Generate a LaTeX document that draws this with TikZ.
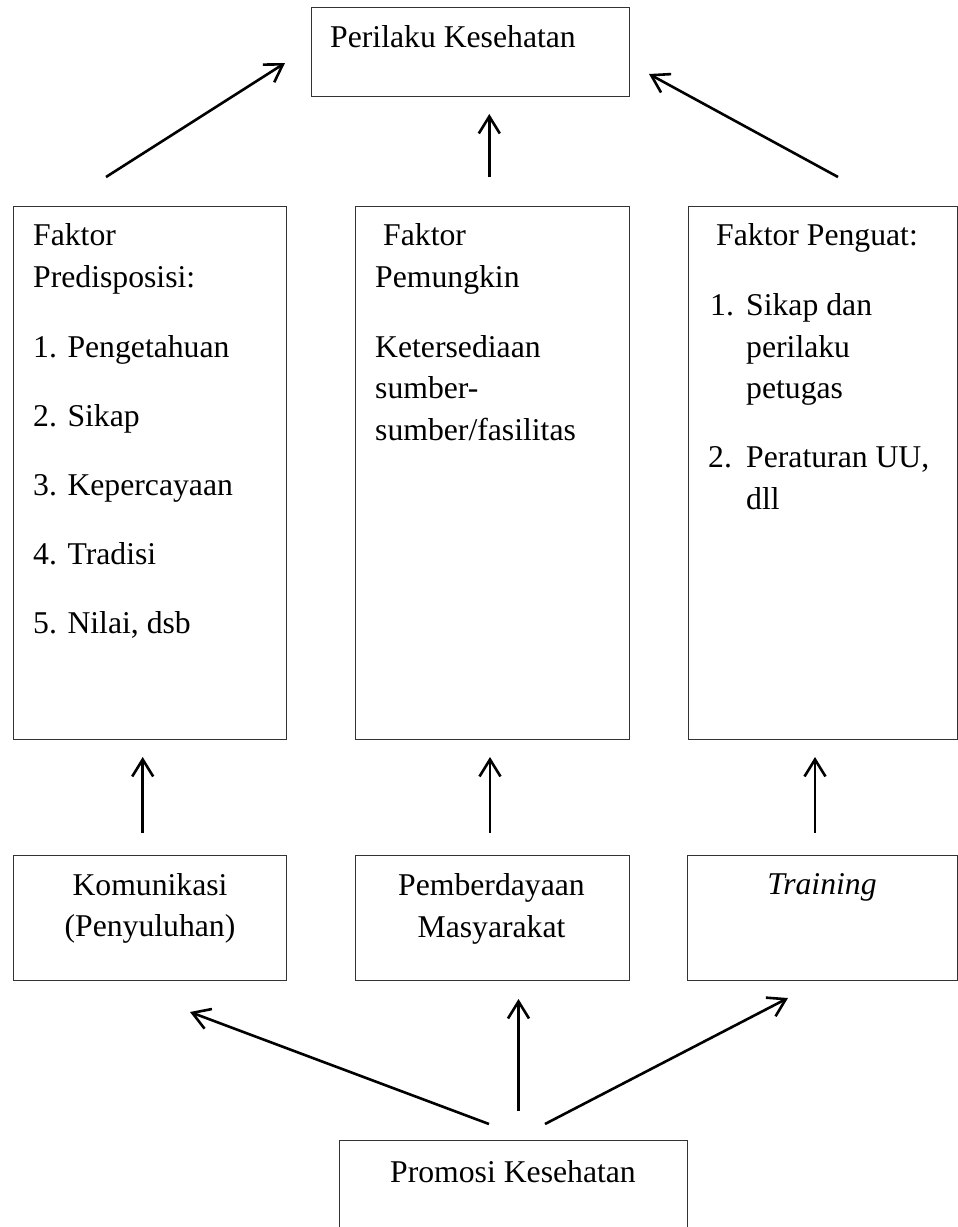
\documentclass[tikz,border=0pt]{standalone}
\usepackage{fontspec}
\setmainfont{Liberation Serif}
\usetikzlibrary{arrows.meta}
\begin{document}
\begin{tikzpicture}[x=1pt,y=-1pt,
  box/.style={draw=black!80, line width=1.1pt, inner sep=0pt, anchor=north west},
  txt/.style={inner sep=0pt, font=\fontsize{31.7}{38}\selectfont},
  lt/.style={txt, anchor=base west},
  ct/.style={txt, anchor=base},
  arr/.style={line width=2.6pt, -{Straight Barb[length=17pt,width=21pt]}}]
\useasboundingbox (0,0) rectangle (958,1227);
% boxes
\node[box, minimum width=318.3pt, minimum height=89pt] (top) at (310.7,7) {};
\node[box, minimum width=273.3pt, minimum height=533pt] (b1) at (12.7,206) {};
\node[box, minimum width=274.5pt, minimum height=533pt] (b2) at (354.5,206) {};
\node[box, minimum width=269.5pt, minimum height=533pt] (b3) at (687.5,206) {};
\node[box, minimum width=273.3pt, minimum height=125pt] (c1) at (12.7,855) {};
\node[box, minimum width=274.5pt, minimum height=125pt] (c2) at (354.5,855) {};
\node[box, minimum width=270.5pt, minimum height=125pt] (c3) at (686.5,855) {};
\node[box, minimum width=348pt, minimum height=120pt] (pk) at (339,1140) {};
% texts
\node[lt] (ttop) at (330,47) {Perilaku Kesehatan};
\node[lt] (t1a) at (33,245) {Faktor};
\node[lt] (t1b) at (33,287) {Predisposisi:};
\node[lt] (t1c) at (33,357) {1. Pengetahuan};
\node[lt] (t1d) at (33,426) {2. Sikap};
\node[lt] (t1e) at (33,495) {3. Kepercayaan};
\node[lt] (t1f) at (33,564) {4. Tradisi};
\node[lt] (t1g) at (33,633) {5. Nilai, dsb};
\node[lt] (t2a) at (383,245) {Faktor};
\node[lt] (t2b) at (375,287) {Pemungkin};
\node[lt] (t2c) at (375,357) {Ketersediaan};
\node[lt] (t2d) at (375,398) {sumber-};
\node[lt] (t2e) at (375,440) {sumber/fasilitas};
\node[lt] (t3a) at (716,245) {Faktor Penguat:};
\node[lt] (t3b) at (710,315) {1.};
\node[lt] (t3c) at (746,315) {Sikap dan};
\node[lt] (t3d) at (746,357) {perilaku};
\node[lt] (t3e) at (746,398) {petugas};
\node[lt] (t3f) at (708,467) {2.};
\node[lt] (t3g) at (746,467) {Peraturan UU,};
\node[lt] (t3h) at (746,509) {dll};
\node[ct] (u1a) at (150,895) {Komunikasi};
\node[ct] (u1b) at (150,936) {(Penyuluhan)};
\node[ct] (u2a) at (491.5,895) {Pemberdayaan};
\node[ct] (u2b) at (491.5,937) {Masyarakat};
\node[ct] (u3a) at (822,894) {\itshape Training};
\node[ct] (upk) at (513,1182) {Promosi Kesehatan};
% arrow end points
\coordinate (a1s) at (106,177);  \coordinate (a1e) at (285,63);
\coordinate (a2s) at (489.3,177); \coordinate (a2e) at (489.3,114);
\coordinate (a3s) at (838,177);  \coordinate (a3e) at (649,74);
\coordinate (m1s) at (142.7,833); \coordinate (m1e) at (142.7,757);
\coordinate (m2s) at (490,833);  \coordinate (m2e) at (490,757);
\coordinate (m3s) at (815,833);  \coordinate (m3e) at (815,757);
\coordinate (p1s) at (489,1124); \coordinate (p1e) at (190,1012);
\coordinate (p2s) at (518.5,1111); \coordinate (p2e) at (518.5,999);
\coordinate (p3s) at (545,1124); \coordinate (p3e) at (788,998);
\draw[arr] (a1s) -- (a1e);
\draw[arr] (a2s) -- (a2e);
\draw[arr] (a3s) -- (a3e);
\draw[arr] (m1s) -- (m1e);
\draw[arr] (m2s) -- (m2e);
\draw[arr] (m3s) -- (m3e);
\draw[arr] (p1s) -- (p1e);
\draw[arr] (p2s) -- (p2e);
\draw[arr] (p3s) -- (p3e);
\end{tikzpicture}
\end{document}
